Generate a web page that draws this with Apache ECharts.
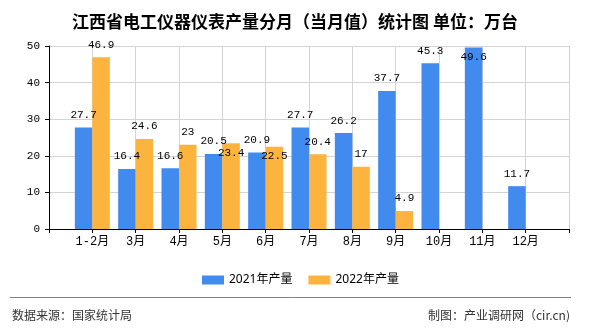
<!DOCTYPE html>
<html>
<head>
<meta charset="utf-8">
<script src="https://cdn.jsdelivr.net/npm/echarts@6/dist/echarts.min.js"></script>
<style>
html,body{margin:0;padding:0;background:#fff;}
#chart{width:590px;height:330px;}
</style>
</head>
<body>
<div id="chart"></div>
<script>
var categories = ['1-2月','3月','4月','5月','6月','7月','8月','9月','10月','11月','12月'];
var values2021 = [27.7,16.4,16.6,20.5,20.9,27.7,26.2,37.7,45.3,49.6,11.7];
var values2022 = [46.9,24.6,23,23.4,22.5,20.4,17,4.9,null,null,null];
var seriesNames = ['2021年产量','2022年产量'];
var yTicks = [0,10,20,30,40,50];

var monoFont = "'Liberation Mono', 'Noto Sans CJK SC', monospace";
var cjkFont = "'Noto Sans CJK SC', sans-serif";

// padded category axis (empty slot at both ends)
var axisCats = [''].concat(categories).concat(['']);
function pad(arr, insideIdx) {
  var out = [null];
  arr.forEach(function (v, i) {
    if (v == null) { out.push(null); return; }
    if (insideIdx.indexOf(i) >= 0) {
      out.push({ value: v, label: { position: 'insideTop', distance: 4 } });
    } else {
      out.push(v);
    }
  });
  out.push(null);
  return out;
}

var chart = echarts.init(document.getElementById('chart'), null, { renderer: 'canvas' });
var labelStyle = {
  show: true, position: 'top', distance: 7, color: '#000',
  fontSize: 11, fontFamily: monoFont
};
chart.setOption({
  animation: false,
  backgroundColor: '#fff',
  title: {
    text: '江西省电工仪器仪表产量分月（当月值）统计图 单位：万台',
    left: 'center', top: 8,
    textStyle: { fontSize: 17, fontWeight: 'bold', color: '#000', fontFamily: cjkFont }
  },
  legend: {
    data: seriesNames,
    left: 197, top: 269,
    icon: 'rect', itemWidth: 22, itemHeight: 9, itemGap: 16,
    textStyle: { fontSize: 12, color: '#000', fontFamily: "'Noto Sans', 'Noto Sans CJK SC', sans-serif" }
  },
  grid: { left: 49, right: 21, top: 46, bottom: 101, containLabel: false },
  xAxis: {
    type: 'category',
    data: axisCats,
    boundaryGap: false,
    axisLine: { lineStyle: { color: '#000', width: 1 } },
    axisTick: { show: true, length: 4, inside: false, lineStyle: { color: '#000' } },
    axisLabel: { color: '#000', fontSize: 12, fontFamily: monoFont, margin: 7, interval: 0 },
    splitLine: { show: true, lineStyle: { color: '#d4d4d4', width: 1 } }
  },
  yAxis: {
    type: 'value',
    min: yTicks[0], max: yTicks[yTicks.length - 1], interval: 10,
    axisLine: { show: true, lineStyle: { color: '#000', width: 1 } },
    axisTick: { show: true, length: 4, lineStyle: { color: '#000' } },
    axisLabel: { color: '#000', fontSize: 11, fontFamily: monoFont, margin: 9 },
    splitLine: { show: true, lineStyle: { color: '#d4d4d4', width: 1 } }
  },
  series: [
    {
      name: seriesNames[0], type: 'bar', data: pad(values2021, [9]),
      barWidth: 17.5, barGap: '0%',
      itemStyle: { color: '#418AEE' },
      label: labelStyle
    },
    {
      name: seriesNames[1], type: 'bar', data: pad(values2022, [3, 4]),
      barWidth: 17.5, barGap: '0%',
      itemStyle: { color: '#FCB43F' },
      label: labelStyle
    }
  ],
  graphic: [
    {
      type: 'line', silent: true,
      shape: { x1: 10, y1: 297.5, x2: 571, y2: 297.5 },
      style: { stroke: '#808080', lineWidth: 1 }
    },
    {
      type: 'text', left: 12, top: 309,
      style: { text: '数据来源：国家统计局', fontSize: 12, fill: '#333', fontFamily: cjkFont }
    },
    {
      type: 'text', right: 20, top: 309,
      style: { text: '制图：产业调研网（cir.cn)', fontSize: 12, fill: '#333', fontFamily: cjkFont }
    }
  ]
});
</script>
</body>
</html>
